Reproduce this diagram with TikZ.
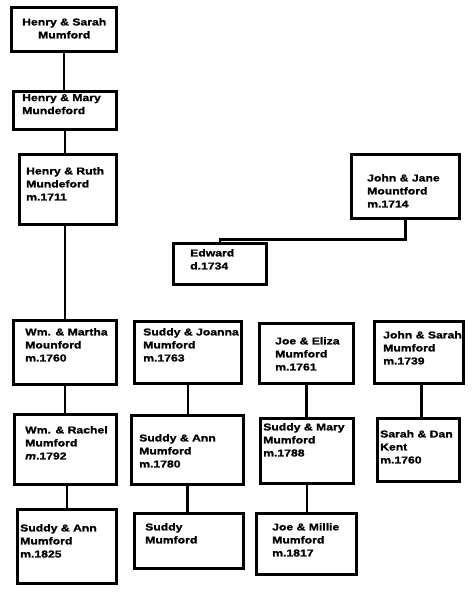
\documentclass[tikz,border=0pt]{standalone}
\usepackage{fontspec}
\newfontfamily\cardfont[FakeStretch=1.22, FakeBold=1.2]{Liberation Sans}
\tikzset{
card/.style={draw, line width=2.8pt, inner sep=0pt, anchor=north west},
cardtext/.style={inner sep=0pt, anchor=north west, align=left,
  font=\cardfont\bfseries\fontsize{10}{13}\selectfont},
link/.style={line width=2.8pt}
}
% #1 text options, #2 name, #3 corner, #4 width, #5 height, #6 text offset, #7 text
\newcommand{\famcard}[7][]{%
  \node[card, minimum width=#4, minimum height=#5] (#2) at #3 {};
  \node[cardtext, #1] (#2-t) at ([shift={#6}]#2.north west) {#7};
}

\begin{document}
\begin{tikzpicture}[x=1pt, y=-1pt]
	\useasboundingbox (0,0) rectangle (474,592);
	% left line
	\famcard[align=center]{hs}{(10,6)}{105}{44}{(12,12)}{Henry \& Sarah\\Mumford}
	\famcard{hm}{(12,90)}{103}{38}{(10,4)}{Henry \& Mary\\Mundeford}
	\famcard{hr}{(18,153)}{97}{70}{(8,14)}{Henry \& Ruth\\Mundeford\\m.1711}
	\famcard{wm}{(12,319)}{103}{64}{(13,9)}{Wm. \& Martha\\Mounford\\m.1760}
	\famcard{wr}{(13,413)}{102}{70}{(12,13)}{Wm. \& Rachel\\Mumford\\\textit{m}.1792}
	\famcard{sa25}{(16,508)}{99}{74}{(4,16)}{Suddy \& Ann\\Mumford\\m.1825}
	% Mountford
	\famcard{jj}{(350,153)}{108}{64}{(17,21)}{John \& Jane\\Mountford\\m.1714}
	\famcard{ed}{(172,242)}{93}{41}{(18,7)}{Edward\\d.1734}
	% second line
	\famcard{sj}{(133,320)}{107}{62}{(10,8)}{Suddy \& Joanna\\Mumford\\m.1763}
	\famcard{sa80}{(130,414)}{112}{69}{(9,20)}{Suddy \& Ann\\Mumford\\m.1780}
	\famcard{sm}{(133,512)}{109}{55}{(12,11)}{Suddy\\Mumford}
	% third line
	\famcard{je}{(258,322)}{94}{60}{(17,15)}{Joe \& Eliza\\Mumford\\m.1761}
	\famcard{smy}{(259,417)}{93}{65}{(4,6)}{Suddy \& Mary\\Mumford\\m.1788}
	\famcard{jm}{(255,512)}{100}{61}{(17,11)}{Joe \& Millie\\Mumford\\m.1817}
	% Kent
	\famcard{js}{(373,320)}{89}{62}{(10,11)}{John \& Sarah\\Mumford\\m.1739}
	\famcard{sd}{(376,417)}{82}{63}{(4,13)}{Sarah \& Dan\\Kent\\m.1760}

	\draw[link] (hs.south) -- (hs.south |- hm.north);
	\draw[link] (hm.south) -- (hm.south |- hr.north);
	\draw[link] (hm.south |- hr.south) -- (hm.south |- wm.north);
	\draw[link] (wm.south) -- (wm.south |- wr.north);
	\draw[link] ([xshift=1.5]wr.south) -- ([xshift=1.5]wr.south |- sa25.north);
	\draw[link] (jj.south) -- ++(0,20) -| (ed.north);
	\draw[link] (sj.south) -- (sj.south |- sa80.north);
	\draw[link] (sa80.south) -- (sa80.south |- sm.north);
	\draw[link] (je.south) -- (je.south |- smy.north);
	\draw[link] (smy.south) -- (smy.south |- jm.north);
	\draw[link] ([xshift=2.5]js.south) -- ([xshift=2.5]js.south |- sd.north);
\end{tikzpicture}
\end{document}
